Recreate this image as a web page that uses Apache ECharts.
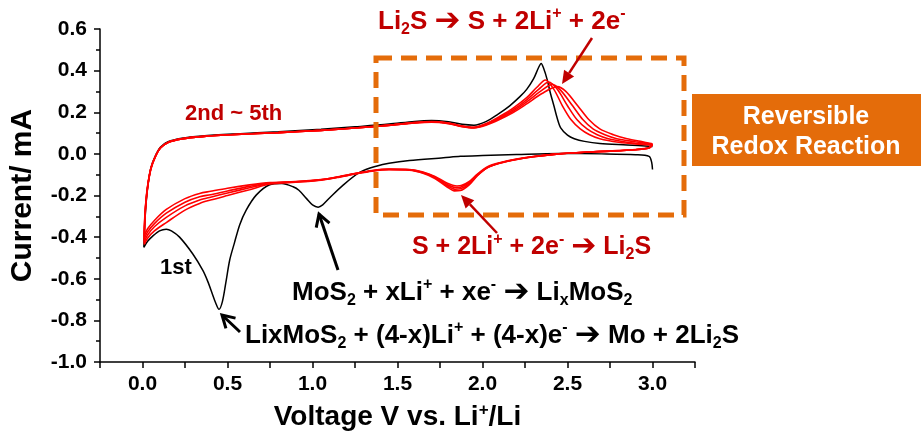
<!DOCTYPE html>
<html>
<head>
<meta charset="utf-8">
<script src="https://cdn.jsdelivr.net/npm/echarts@6/dist/echarts.min.js"></script>
<style>
  html, body { margin: 0; padding: 0; background: #fff; }
  #cv-chart { width: 921px; height: 436px; }
</style>
</head>
<body>
<div id="cv-chart"></div>
<script>
// axis ticks
const xTicks = { min: -0.25, max: 3.25, step: 0.25 };
const yTicks = { min: -1.0, max: 0.6, step: 0.2 };

// 1st cycle (black) [voltage V, current mA]
const cycle1Cathodic = [[3.0,-0.075],[2.995,-0.04],[2.98,-0.012],[2.9,-0.004],[2.7,0.0],[2.45,0.002],[2.2,-0.003],[2.0,-0.008],[1.87,-0.012],[1.77,-0.019],[1.57,-0.032],[1.45,-0.045],[1.38,-0.058],[1.28,-0.088],[1.18,-0.15],[1.1,-0.212],[1.06,-0.245],[1.033,-0.256],[1.0,-0.245],[0.965,-0.215],[0.92,-0.175],[0.886,-0.158],[0.82,-0.142],[0.748,-0.148],[0.67,-0.197],[0.61,-0.27],[0.572,-0.34],[0.54,-0.43],[0.513,-0.51],[0.49,-0.62],[0.47,-0.71],[0.45,-0.747],[0.43,-0.715],[0.414,-0.68],[0.385,-0.615],[0.355,-0.56],[0.296,-0.481],[0.218,-0.4],[0.17,-0.37],[0.14,-0.362],[0.1,-0.37],[0.06,-0.395],[0.03,-0.42],[0.008,-0.449]];
const cycle1Anodic = [[0.012,-0.36],[0.02,-0.25],[0.032,-0.15],[0.05,-0.065],[0.075,-0.01],[0.105,0.032],[0.15,0.058],[0.23,0.075],[0.35,0.086],[0.55,0.096],[0.8,0.106],[1.05,0.118],[1.25,0.13],[1.45,0.143],[1.6,0.156],[1.7,0.16],[1.8,0.154],[1.88,0.142],[1.95,0.138],[2.02,0.155],[2.09,0.19],[2.16,0.231],[2.22,0.275],[2.26,0.31],[2.3,0.36],[2.33,0.415],[2.345,0.434],[2.36,0.41],[2.38,0.358],[2.4,0.29],[2.42,0.231],[2.44,0.17],[2.46,0.125],[2.5,0.09],[2.54,0.073],[2.6,0.06],[2.69,0.05],[2.85,0.043],[3.0,0.036]];

// 2nd - 5th cycles (red)
const cycle2Cathodic = [[3.0,0.044],[2.98,0.028],[2.9,0.02],[2.75,0.013],[2.6,0.008],[2.45,0.0],[2.3,-0.014],[2.2,-0.027],[2.1,-0.045],[2.03,-0.066],[1.97,-0.105],[1.92,-0.15],[1.87,-0.176],[1.835,-0.178],[1.79,-0.158],[1.72,-0.118],[1.65,-0.093],[1.57,-0.078],[1.45,-0.076],[1.35,-0.083],[1.25,-0.097],[1.15,-0.113],[1.05,-0.126],[0.9,-0.136],[0.75,-0.145],[0.63,-0.172],[0.5,-0.2],[0.4,-0.222],[0.336,-0.238],[0.25,-0.27],[0.14,-0.33],[0.07,-0.37],[0.03,-0.405],[0.01,-0.435]];
const cycle2Anodic = [[0.013,-0.34],[0.02,-0.24],[0.032,-0.15],[0.05,-0.07],[0.075,-0.015],[0.105,0.028],[0.15,0.055],[0.23,0.072],[0.35,0.083],[0.55,0.093],[0.8,0.102],[1.05,0.113],[1.25,0.124],[1.45,0.138],[1.6,0.15],[1.7,0.155],[1.8,0.148],[1.88,0.134],[1.95,0.128],[2.02,0.145],[2.1,0.18],[2.18,0.22],[2.26,0.27],[2.32,0.32],[2.37,0.355],[2.42,0.31],[2.47,0.231],[2.52,0.165],[2.575,0.12],[2.63,0.092],[2.69,0.073],[2.8,0.056],[2.9,0.048],[3.0,0.044]];
const cycle3Cathodic = [[3.0,0.044],[2.98,0.028],[2.9,0.02],[2.75,0.013],[2.6,0.008],[2.45,0.0],[2.3,-0.014],[2.2,-0.027],[2.1,-0.045],[2.03,-0.066],[1.97,-0.103],[1.92,-0.145],[1.87,-0.168],[1.84,-0.17],[1.79,-0.152],[1.72,-0.114],[1.65,-0.091],[1.57,-0.077],[1.45,-0.075],[1.35,-0.082],[1.25,-0.096],[1.15,-0.112],[1.05,-0.125],[0.9,-0.135],[0.75,-0.142],[0.63,-0.163],[0.5,-0.188],[0.4,-0.208],[0.336,-0.222],[0.25,-0.25],[0.14,-0.305],[0.07,-0.35],[0.03,-0.39],[0.01,-0.425]];
const cycle3Anodic = [[0.013,-0.33],[0.02,-0.235],[0.032,-0.148],[0.05,-0.07],[0.075,-0.015],[0.105,0.028],[0.15,0.055],[0.23,0.072],[0.35,0.083],[0.55,0.093],[0.8,0.102],[1.05,0.113],[1.25,0.124],[1.45,0.138],[1.6,0.15],[1.7,0.154],[1.8,0.147],[1.88,0.133],[1.95,0.127],[2.02,0.143],[2.1,0.175],[2.18,0.212],[2.26,0.26],[2.33,0.31],[2.39,0.345],[2.44,0.31],[2.5,0.231],[2.555,0.165],[2.615,0.12],[2.675,0.092],[2.74,0.073],[2.85,0.056],[2.93,0.048],[3.0,0.044]];
const cycle4Cathodic = [[3.0,0.046],[2.98,0.029],[2.9,0.02],[2.75,0.013],[2.6,0.008],[2.45,0.0],[2.3,-0.013],[2.2,-0.026],[2.1,-0.044],[2.03,-0.064],[1.97,-0.1],[1.92,-0.14],[1.87,-0.16],[1.845,-0.162],[1.79,-0.146],[1.72,-0.111],[1.65,-0.089],[1.57,-0.076],[1.45,-0.074],[1.35,-0.081],[1.25,-0.095],[1.15,-0.111],[1.05,-0.124],[0.9,-0.134],[0.75,-0.14],[0.63,-0.156],[0.5,-0.178],[0.4,-0.196],[0.336,-0.206],[0.25,-0.232],[0.14,-0.285],[0.07,-0.335],[0.03,-0.375],[0.01,-0.41]];
const cycle4Anodic = [[0.013,-0.32],[0.02,-0.23],[0.032,-0.145],[0.05,-0.068],[0.075,-0.014],[0.105,0.028],[0.15,0.055],[0.23,0.072],[0.35,0.083],[0.55,0.093],[0.8,0.102],[1.05,0.113],[1.25,0.124],[1.45,0.137],[1.6,0.149],[1.7,0.153],[1.8,0.146],[1.88,0.132],[1.95,0.126],[2.02,0.14],[2.1,0.17],[2.18,0.205],[2.26,0.25],[2.34,0.3],[2.41,0.334],[2.46,0.305],[2.53,0.231],[2.59,0.165],[2.65,0.12],[2.72,0.092],[2.79,0.073],[2.9,0.058],[3.0,0.046]];
const cycle5Cathodic = [[3.0,0.048],[2.98,0.03],[2.9,0.021],[2.75,0.014],[2.6,0.008],[2.45,0.0],[2.3,-0.013],[2.2,-0.025],[2.1,-0.043],[2.03,-0.062],[1.97,-0.097],[1.92,-0.134],[1.875,-0.152],[1.85,-0.154],[1.79,-0.14],[1.72,-0.108],[1.65,-0.087],[1.57,-0.075],[1.45,-0.073],[1.35,-0.08],[1.25,-0.094],[1.15,-0.11],[1.05,-0.123],[0.9,-0.133],[0.75,-0.138],[0.63,-0.149],[0.5,-0.165],[0.4,-0.18],[0.336,-0.19],[0.25,-0.215],[0.14,-0.267],[0.07,-0.32],[0.03,-0.36],[0.01,-0.395]];
const cycle5Anodic = [[0.013,-0.31],[0.02,-0.225],[0.032,-0.142],[0.05,-0.066],[0.075,-0.013],[0.105,0.028],[0.15,0.055],[0.23,0.072],[0.35,0.083],[0.55,0.093],[0.8,0.102],[1.05,0.113],[1.25,0.124],[1.45,0.137],[1.6,0.148],[1.7,0.152],[1.8,0.145],[1.88,0.131],[1.95,0.125],[2.02,0.138],[2.1,0.165],[2.18,0.198],[2.26,0.24],[2.35,0.29],[2.44,0.323],[2.49,0.3],[2.56,0.231],[2.625,0.165],[2.69,0.12],[2.77,0.092],[2.85,0.073],[2.93,0.06],[3.0,0.048]];

const redCycles = [
  [cycle2Cathodic, cycle2Anodic],
  [cycle3Cathodic, cycle3Anodic],
  [cycle4Cathodic, cycle4Anodic],
  [cycle5Cathodic, cycle5Anodic]
];

const FONT = '"Liberation Sans", Arial, sans-serif';
const DARK_RED = '#C00000';
const ORANGE = '#E46C0A';

// tiny markup: _x subscript, ^x superscript (one char), → drawn as heavy arrow
function chem(str, style) {
  let out = '';
  let buf = '';
  const flush = function () { if (buf) { out += '{' + style + '|' + buf + '}'; buf = ''; } };
  for (let i = 0; i < str.length; i++) {
    const c = str[i];
    if ((c === '_' || c === '^') && i + 1 < str.length) {
      flush();
      out += '{' + style + (c === '_' ? 'Sub' : 'Sup') + '|' + str[i + 1] + '}';
      i++;
    } else if (c === '→') {
      flush();
      out += '{' + style + 'Arr|\u2794}';
    } else {
      buf += c;
    }
  }
  flush();
  return out;
}

function richSet(name, size, color) {
  const small = Math.round(size * 0.62);
  const r = {};
  r[name] = { fontSize: size, fontWeight: 'bold', fontFamily: FONT, fill: color, lineHeight: size + 6, verticalAlign: 'middle' };
  r[name + 'Sub'] = { fontSize: small, fontWeight: 'bold', fontFamily: FONT, fill: color, lineHeight: small, verticalAlign: 'bottom' };
  r[name + 'Sup'] = { fontSize: small, fontWeight: 'bold', fontFamily: FONT, fill: color, lineHeight: small, verticalAlign: 'top' };
  r[name + 'Arr'] = { fontSize: Math.round(size * 1.2), fontWeight: 'bold', fontFamily: '"DejaVu Sans", sans-serif', fill: color, lineHeight: size + 6, verticalAlign: 'middle' };
  return r;
}

function label(x, y, str, size, color, align) {
  return {
    type: 'text',
    x: x, y: y,
    style: {
      text: chem(str, 't'),
      rich: richSet('t', size, color),
      fill: color,
      align: align || 'left',
      verticalAlign: 'middle'
    },
    z: 100
  };
}

function arrow(x1, y1, x2, y2, color, width, filled) {
  const dx = x2 - x1, dy = y2 - y1;
  const len = Math.sqrt(dx * dx + dy * dy);
  const ux = dx / len, uy = dy / len;
  const hl = filled ? 13 : 12, hw = filled ? 6 : 7;
  const bx = x2 - ux * hl, by = y2 - uy * hl;
  const p1 = [bx - uy * hw, by + ux * hw];
  const p2 = [bx + uy * hw, by - ux * hw];
  const items = [{
    type: 'line',
    shape: { x1: x1, y1: y1, x2: filled ? bx : x2, y2: filled ? by : y2 },
    style: { stroke: color, lineWidth: width },
    z: 100
  }];
  if (filled) {
    items.push({ type: 'polygon', shape: { points: [p1, [x2, y2], p2] }, style: { fill: color }, z: 100 });
  } else {
    items.push({ type: 'polyline', shape: { points: [p1, [x2, y2], p2] }, style: { stroke: color, lineWidth: width, fill: null }, z: 100 });
  }
  return items;
}

const chart = echarts.init(document.getElementById('cv-chart'));

const series = [{
  name: '1st',
  type: 'line',
  data: cycle1Cathodic.concat(cycle1Anodic),
  smooth: 0.3,
  showSymbol: false,
  lineStyle: { color: '#000', width: 1.5 },
  z: 2
}];
redCycles.forEach(function (c, i) {
  series.push({
    name: 'cycle' + (i + 2),
    type: 'line',
    data: c[0].concat(c[1]),
    smooth: 0.3,
    showSymbol: false,
    lineStyle: { color: '#FF0000', width: 1.6 },
    z: 3
  });
});

const graphics = [
  {
    type: 'rect',
    shape: { x: 376, y: 58, width: 308, height: 157 },
    style: { fill: null, stroke: ORANGE, lineWidth: 5, lineDash: [16, 9] },
    z: 90
  },
  {
    type: 'rect',
    shape: { x: 692, y: 94, width: 229, height: 72 },
    style: { fill: ORANGE },
    z: 90
  },
  {
    type: 'text',
    x: 806, y: 132,
    style: {
      text: 'Reversible\nRedox Reaction',
      fill: '#fff',
      font: 'bold 25px ' + FONT,
      lineHeight: 30,
      align: 'center',
      verticalAlign: 'middle'
    },
    z: 100
  },
  label(378, 22, 'Li_2S → S + 2Li^+ + 2e^-', 26, DARK_RED),
  label(185, 114, '2nd ~ 5th', 22, DARK_RED),
  label(160, 268, '1st', 22, '#000'),
  label(412, 247, 'S + 2Li^+ + 2e^- → Li_2S', 25, DARK_RED),
  label(292, 293, 'MoS_2 + xLi^+ + xe^- → Li_xMoS_2', 26, '#000'),
  label(245, 336, 'LixMoS_2 + (4-x)Li^+ + (4-x)e^- → Mo + 2Li_2S', 26, '#000')
].concat(
  arrow(592, 38, 562, 84, DARK_RED, 2.5, true),
  arrow(497, 233, 461, 195, DARK_RED, 2.5, true),
  arrow(338, 270, 319, 214, '#000', 3, false),
  arrow(240, 332, 222, 315, '#000', 3, false)
);

const option = {
  animation: false,
  backgroundColor: '#fff',
  grid: { left: 100, right: 226, top: 29, bottom: 70 },
  xAxis: {
    type: 'value',
    min: xTicks.min,
    max: xTicks.max,
    interval: xTicks.step,
    name: '{a|Voltage V vs. Li}{s|+}{a|/Li}',
    nameLocation: 'middle',
    nameGap: 40,
    nameTextStyle: {
      rich: {
        a: { fontSize: 28, fontWeight: 'bold', fontFamily: FONT, color: '#000', lineHeight: 30, verticalAlign: 'middle' },
        s: { fontSize: 17, fontWeight: 'bold', fontFamily: FONT, color: '#000', lineHeight: 16, verticalAlign: 'top' }
      }
    },
    axisLine: { onZero: false, lineStyle: { color: '#000', width: 1.5 } },
    axisTick: { inside: false, length: 6, lineStyle: { color: '#000', width: 1.5 } },
    axisLabel: {
      margin: 12,
      fontSize: 21,
      fontWeight: 'bold',
      fontFamily: FONT,
      color: '#000',
      formatter: function (v) {
        const onHalf = Math.abs(v * 2 - Math.round(v * 2)) < 1e-6;
        return (onHalf && v > -0.01 && v < 3.01) ? v.toFixed(1) : '';
      }
    },
    splitLine: { show: false }
  },
  yAxis: {
    type: 'value',
    min: yTicks.min,
    max: yTicks.max,
    interval: yTicks.step,
    name: 'Current/ mA',
    nameLocation: 'middle',
    nameGap: 62,
    nameTextStyle: { fontSize: 30, fontWeight: 'bold', fontFamily: FONT, color: '#000' },
    axisLine: { onZero: false, lineStyle: { color: '#000', width: 1.5 } },
    axisTick: { inside: false, length: 6, lineStyle: { color: '#000', width: 1.5 } },
    minorTick: { show: true, splitNumber: 2, length: 4, lineStyle: { color: '#000', width: 1.5 } },
    axisLabel: {
      margin: 13,
      fontSize: 21,
      fontWeight: 'bold',
      fontFamily: FONT,
      color: '#000',
      formatter: function (v) { return v.toFixed(1); }
    },
    splitLine: { show: false },
    minorSplitLine: { show: false }
  },
  series: series,
  graphic: graphics
};

chart.setOption(option);
</script>
</body>
</html>
